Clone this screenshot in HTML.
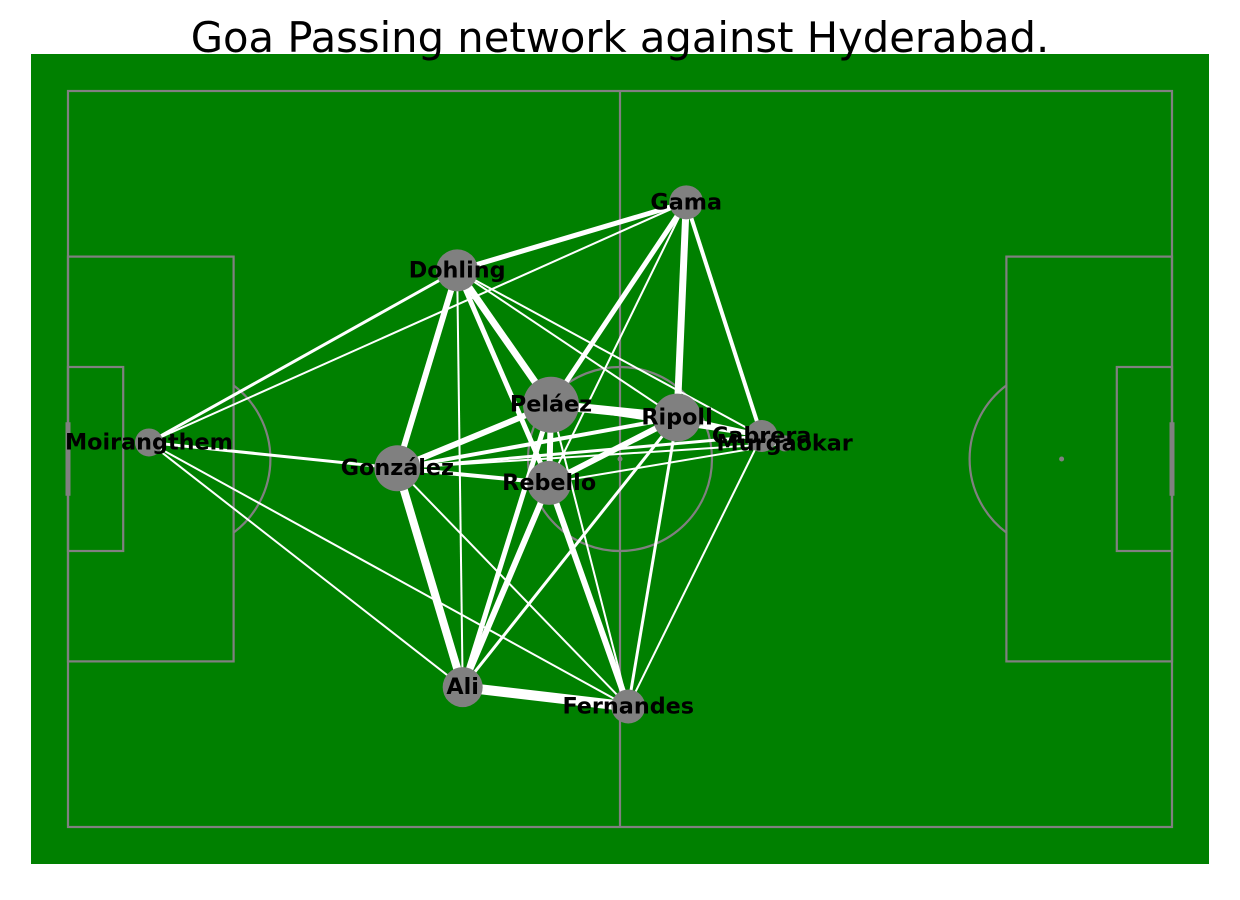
<!DOCTYPE html>
<html><head><meta charset="utf-8"><style>
body{margin:0;background:#fff;width:1240px;height:900px;overflow:hidden}
svg{display:block}
</style></head><body>
<svg width="1240" height="900">
<rect x="31" y="54" width="1178" height="810" fill="#008000"/>
<g id="pitch" stroke="#808080" stroke-width="2.2" fill="none"></g>
<g id="edges"></g>
<g id="nodes"></g>
<text x="620" y="52" text-anchor="middle" font-family="DejaVu Sans, Liberation Sans, sans-serif" font-size="41.7">Goa Passing network against Hyderabad.</text>
</svg>
<script>
// pitch in yards (120 x 80)
const playerNames = ["Gama","Dohling","Peláez","Ripoll","Murgaokar","Cabrera","Moirangthem","González","Rebello","Ali","Fernandes"];
const playerX = [67.2, 42.3, 52.5, 66.2, 77.9, 75.4, 8.8, 35.8, 52.3, 42.9, 60.9];
const playerY = [12.1, 19.5, 34.1, 35.5, 38.3, 37.5, 38.2, 41.0, 42.6, 64.8, 66.9];
const nodeRadius = [17, 21, 28, 24, 8, 16, 14, 23, 22, 20, 17];
const edgeFrom = [0,0,0,0,0,0,1,1,1,1,1,1,1,2,2,2,2,2,2,3,3,3,3,3,7,7,7,7,7,6,6,6,8,8,8,9,5];
const edgeTo   = [1,6,2,3,5,8,2,8,7,9,3,5,6,3,7,8,9,10,5,7,8,9,10,5,8,4,5,9,10,7,9,10,9,10,4,10,10];
const edgeWidth= [5,2,5,7,4,2,7,5,6,2,2,2,3,9,6,6,5,2,3,4,6,3,3,5,4,2,3,8,2,3,2,2,6,6,2,10,2];

const NS="http://www.w3.org/2000/svg";
const sx=v=>68+v*9.2, sy=v=>91+v*9.2;
function mk(tag,attrs,parent){const e=document.createElementNS(NS,tag);for(const k in attrs)e.setAttribute(k,attrs[k]);parent.appendChild(e);return e;}
const P=document.getElementById('pitch');
[
 ['rect',{x:sx(0),y:sy(0),width:120*9.2,height:80*9.2},'pitch-outline'],
 ['line',{x1:sx(60),y1:sy(0),x2:sx(60),y2:sy(80)},'halfway-line'],
 ['circle',{cx:sx(60),cy:sy(40),r:92},'centre-circle'],
 ['rect',{x:sx(0),y:sy(18),width:18*9.2,height:44*9.2},'left-penalty-box'],
 ['rect',{x:sx(102),y:sy(18),width:18*9.2,height:44*9.2},'right-penalty-box'],
 ['rect',{x:sx(0),y:sy(30),width:6*9.2,height:20*9.2},'left-six-yard-box'],
 ['rect',{x:sx(114),y:sy(30),width:6*9.2,height:20*9.2},'right-six-yard-box'],
].forEach(([t,a,n])=>{const e=mk(t,a,P);});
const dx=Math.sqrt(92*92-(6*9.2)**2);
let a1=mk('path',{d:`M ${sx(18)} ${sy(40)-dx} A 92 92 0 0 1 ${sx(18)} ${sy(40)+dx}`},P);

let a2=mk('path',{d:`M ${sx(102)} ${sy(40)-dx} A 92 92 0 0 0 ${sx(102)} ${sy(40)+dx}`},P);

let g1=mk('line',{x1:sx(0),y1:sy(36),x2:sx(0),y2:sy(44),'stroke-width':5},P);

let g2=mk('line',{x1:sx(120),y1:sy(36),x2:sx(120),y2:sy(44),'stroke-width':5},P);

[[60,40],[108,40]].forEach(([x,y],i)=>{const c=mk('circle',{cx:sx(x),cy:sy(y),r:2.5,fill:'#808080',stroke:'none'},P);

});

const E=document.getElementById('edges');
for(let i=0;i<edgeFrom.length;i++){
 const a=edgeFrom[i],b=edgeTo[i];
 const l=mk('line',{x1:sx(playerX[a]),y1:sy(playerY[a]),x2:sx(playerX[b]),y2:sy(playerY[b]),stroke:'#fff','stroke-width':edgeWidth[i]},E);
 
 
}
const N=document.getElementById('nodes');
for(let i=0;i<playerNames.length;i++){
 const c=mk('circle',{cx:sx(playerX[i]),cy:sy(playerY[i]),r:nodeRadius[i],fill:'#808080'},N);
 
 
}
for(let i=0;i<playerNames.length;i++){
 const t=mk('text',{x:sx(playerX[i]),y:sy(playerY[i])+7,'text-anchor':'middle','font-family':'DejaVu Sans, Liberation Sans, sans-serif','font-size':22.3,'font-weight':'bold',fill:'#000'},N);
 t.textContent=playerNames[i];
 
 
}
</script>
</body></html>
